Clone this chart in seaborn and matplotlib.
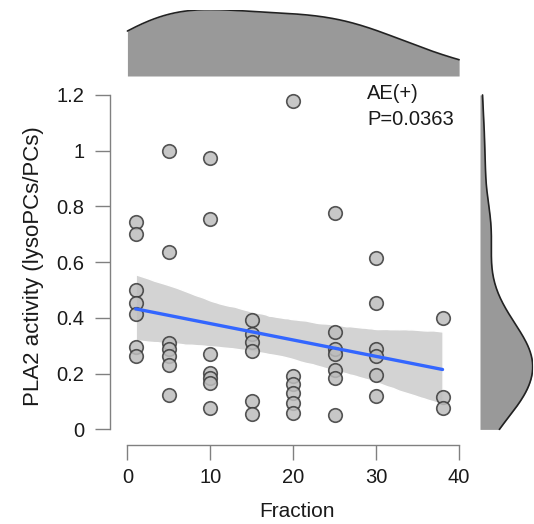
import numpy as np
import pandas as pd
import matplotlib
matplotlib.use("Agg")
import matplotlib.pyplot as plt
from matplotlib.collections import PolyCollection
import seaborn as sns

# values
x_levels = [1, 5, 10, 15, 20, 25, 30, 38]
y_groups = [
    [0.745, 0.70, 0.50, 0.455, 0.415, 0.297, 0.264],
    [1.00, 0.637, 0.31, 0.29, 0.265, 0.23, 0.125],
    [0.973, 0.754, 0.27, 0.204, 0.186, 0.168, 0.075],
    [0.394, 0.342, 0.312, 0.282, 0.102, 0.054],
    [1.18, 0.19, 0.162, 0.13, 0.096, 0.06],
    [0.777, 0.351, 0.29, 0.27, 0.213, 0.184, 0.05],
    [0.614, 0.453, 0.288, 0.264, 0.195, 0.121],
    [0.399, 0.118, 0.076],
]
x_ticks = [0, 10, 20, 30, 40]
y_ticks = [0, 0.2, 0.4, 0.6, 0.8, 1.0, 1.2]
y_ticklabels = ["0", "0.2", "0.4", "0.6", "0.8", "1", "1.2"]
note = "AE(+)\nP=0.0363"

fraction = [xv for xv, ys in zip(x_levels, y_groups) for _ in ys]
activity = [yv for ys in y_groups for yv in ys]
df = pd.DataFrame({"Fraction": fraction, "PLA2": activity})

sns.set_style("white")
plt.rcParams["font.family"] = ["Liberation Sans", "DejaVu Sans"]

fig = plt.figure(figsize=(5.34, 5.24), dpi=100)
W, H = 534.0, 524.0

def box(x0, y0, x1, y1):
    # pixel box (top-left origin) -> figure fraction
    return [x0 / W, 1 - y1 / H, (x1 - x0) / W, (y1 - y0) / H]

ax = fig.add_axes(box(110, 86.6, 484, 445))
ax_top = fig.add_axes(box(110, 9.6, 484, 76), sharex=ax)
ax_right = fig.add_axes(box(480, 86.6, 532.7, 445), sharey=ax)
for a in (ax_top, ax_right):
    a.patch.set_alpha(0)

# scatter + linear fit
sns.regplot(data=df, x="Fraction", y="PLA2", ax=ax, scatter=False, ci=95, seed=3,
            color="#d3d3d3", line_kws={"color": "#3366FF", "lw": 2.4, "zorder": 4})
for c in ax.collections:
    if isinstance(c, PolyCollection):
        c.set_facecolor("#d3d3d3")
        c.set_alpha(1)
        c.set_zorder(1)
sns.scatterplot(data=df, x="Fraction", y="PLA2", ax=ax, s=95, color="#bdbdbd",
                edgecolor="#3a3a3a", linewidth=1.2, alpha=0.85, zorder=3)

ax.set_xlim(-2.1, 43)
ax.set_ylim(-0.056, 1.23)
ax.set_xticks(x_ticks)
ax.set_yticks(y_ticks)
ax.set_yticklabels(y_ticklabels)
sns.despine(ax=ax)
for s in ("left", "bottom"):
    ax.spines[s].set_color("#808080")
    ax.spines[s].set_linewidth(1.0)
ax.spines["left"].set_bounds(0, 1.2)
ax.spines["bottom"].set_bounds(0, 40)
ax.tick_params(axis="both", direction="out", length=10.5, width=1.0, color="#808080",
               labelsize=14.5, labelcolor="#1a1a1a", left=True, bottom=True)
ax.tick_params(axis="y", pad=8)
ax.tick_params(axis="x", pad=6)
ax.set_xlabel("Fraction", fontsize=15, labelpad=11, color="#1a1a1a")
ax.set_ylabel("PLA2 activity (lysoPCs/PCs)", fontsize=16, labelpad=9, color="#1a1a1a")
ax.text(28.9, 1.24, note, fontsize=14.5, va="top", ha="left", color="#1a1a1a",
        linespacing=1.5, clip_on=False)

# marginal densities
sns.kdeplot(data=df, x="Fraction", ax=ax_top, fill=True, color="#999999", alpha=1,
            linewidth=0, bw_adjust=1.3, cut=10, clip=(0, 40))
sns.kdeplot(data=df, x="Fraction", ax=ax_top, color="#222222", linewidth=1.2,
            bw_adjust=1.3, cut=10, clip=(0, 40))
top_max = max(l.get_ydata().max() for l in ax_top.lines)
ax_top.set_ylim(0, top_max)
ax_top.set_axis_off()

sns.kdeplot(data=df, y="PLA2", ax=ax_right, fill=True, color="#999999", alpha=1,
            linewidth=0, bw_adjust=0.85, cut=10, clip=(0, 1.2))
sns.kdeplot(data=df, y="PLA2", ax=ax_right, color="#222222", linewidth=1.2,
            bw_adjust=0.85, cut=10, clip=(0, 1.2))
right_max = max(l.get_xdata().max() for l in ax_right.lines)
ax_right.set_xlim(0, right_max)
ax_right.set_axis_off()

fig.savefig("out.png", dpi=100)
